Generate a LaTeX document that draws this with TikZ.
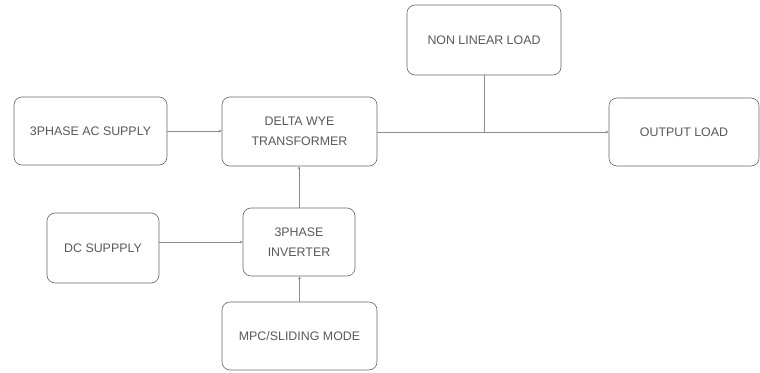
\documentclass[tikz,border=0pt]{standalone}
\usepackage{fontspec}
\setmainfont{Liberation Sans}
\usetikzlibrary{arrows.meta}
\begin{document}
\begin{tikzpicture}[x=1pt,y=-1pt,
  blk/.style={draw=black!60, line width=0.6pt, rounded corners=8pt, fill=white,
    align=center, text=black!65, font=\fontsize{12.4}{19.5}\selectfont, inner sep=0pt},
  conn/.style={draw=black!45, line width=0.9pt},
  arr/.style={conn, -{Stealth[length=3pt,width=3pt]}}]
\useasboundingbox (0,0) rectangle (760,372);
\node[blk, minimum width=153pt, minimum height=68pt] (ac) at (90.5,131) {3PHASE AC SUPPLY};
\node[blk, minimum width=155pt, minimum height=69pt] (tr) at (299.5,131.5) {DELTA WYE\\TRANSFORMER};
\node[blk, minimum width=154pt, minimum height=70pt] (nl) at (484,40) {NON LINEAR LOAD};
\node[blk, minimum width=150pt, minimum height=68pt] (out) at (684,132) {OUTPUT LOAD};
\node[blk, minimum width=112pt, minimum height=70pt] (dc) at (103,248) {DC SUPPPLY};
\node[blk, minimum width=112pt, minimum height=68pt] (inv) at (299,242) {3PHASE\\INVERTER};
\node[blk, minimum width=155pt, minimum height=68pt] (mpc) at (299.5,336) {MPC/SLIDING MODE};
\coordinate (j) at (nl.south |- out.west);
\draw[arr] (ac.east) -- (ac.east -| tr.west);
\draw[arr] (tr.east |- out.west) -- (out.west);
\draw[conn] (nl.south) -- (j);
\draw[arr] (inv.north) -- (inv.north |- tr.south);
\draw[arr] (dc.east |- inv.west) -- (inv.west);
\draw[arr] (mpc.north) -- (mpc.north |- inv.south);
\end{tikzpicture}
\end{document}
